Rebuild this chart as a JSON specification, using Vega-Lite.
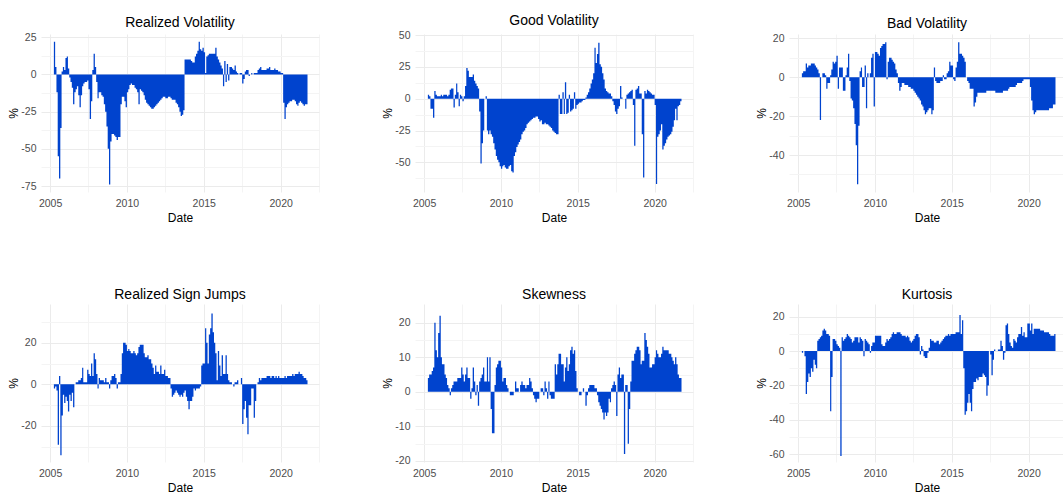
{
"$schema": "https://vega.github.io/schema/vega-lite/v6.json",
"padding": {"left": 7, "top": 14, "right": 0, "bottom": 0},
"background": "white",
"config": {
 "view": {"stroke": null},
 "font": "Liberation Sans",
 "title": {"font": "Liberation Sans", "fontSize": 14, "fontWeight": "normal", "color": "#000000", "anchor": "middle", "frame": "group", "offset": 2},
 "axis": {"domain": false, "ticks": false, "grid": true, "gridWidth": 1, "labelFont": "Liberation Sans", "labelFontSize": 10.5, "labelColor": "#4d4d4d", "titleFont": "Liberation Sans", "titleFontSize": 12, "titleFontWeight": "normal", "titleColor": "#000000", "labelOverlap": false, "labelFlush": false},
 "axisX": {"labelPadding": 6.5, "titlePadding": 3},
 "axisY": {"labelPadding": 5, "titlePadding": 0}
},
"data": {"values": [
{"d":"2005-04","rv":22,"gv":3,"bv":2,"sj":-2,"sk":4,"ku":-1},
{"d":"2005-05","rv":5,"gv":2,"bv":3,"sj":-1,"sk":5,"ku":0},
{"d":"2005-06","rv":-12,"gv":-8,"bv":3,"sj":-3,"sk":5,"ku":-3},
{"d":"2005-07","rv":-55,"gv":-8,"bv":7,"sj":-29,"sk":6,"ku":-25},
{"d":"2005-08","rv":-70,"gv":-15,"bv":5,"sj":4,"sk":7,"ku":-18},
{"d":"2005-09","rv":-36,"gv":6,"bv":6,"sj":-34,"sk":20,"ku":-13},
{"d":"2005-10","rv":2,"gv":3,"bv":6,"sj":-15,"sk":12,"ku":-15},
{"d":"2005-11","rv":5,"gv":2,"bv":7,"sj":-5,"sk":10,"ku":-10},
{"d":"2005-12","rv":3,"gv":2,"bv":7,"sj":-9,"sk":17,"ku":-12},
{"d":"2006-01","rv":11,"gv":2,"bv":7,"sj":-6,"sk":22,"ku":-5},
{"d":"2006-02","rv":12,"gv":3,"bv":6,"sj":-8,"sk":10,"ku":-8},
{"d":"2006-03","rv":4,"gv":2,"bv":5,"sj":-13,"sk":8,"ku":-10},
{"d":"2006-04","rv":-2,"gv":3,"bv":4,"sj":-5,"sk":8,"ku":6},
{"d":"2006-05","rv":-5,"gv":3,"bv":2,"sj":-8,"sk":5,"ku":7},
{"d":"2006-06","rv":-9,"gv":3,"bv":-22,"sj":-4,"sk":4,"ku":8},
{"d":"2006-07","rv":-20,"gv":2,"bv":0,"sj":-11,"sk":2,"ku":9},
{"d":"2006-08","rv":-12,"gv":3,"bv":2,"sj":0,"sk":1,"ku":12},
{"d":"2006-09","rv":-10,"gv":7,"bv":2,"sj":1,"sk":-1,"ku":13},
{"d":"2006-10","rv":-8,"gv":8,"bv":1,"sj":1,"sk":1,"ku":12},
{"d":"2006-11","rv":-14,"gv":8,"bv":-6,"sj":2,"sk":2,"ku":10},
{"d":"2006-12","rv":-22,"gv":-7,"bv":-3,"sj":2,"sk":3,"ku":10},
{"d":"2007-01","rv":-14,"gv":3,"bv":-3,"sj":3,"sk":3,"ku":9},
{"d":"2007-02","rv":-8,"gv":12,"bv":1,"sj":8,"sk":3,"ku":-35},
{"d":"2007-03","rv":-6,"gv":5,"bv":4,"sj":1,"sk":4,"ku":-15},
{"d":"2007-04","rv":-5,"gv":-6,"bv":8,"sj":1,"sk":4,"ku":7},
{"d":"2007-05","rv":-5,"gv":3,"bv":7,"sj":1,"sk":4,"ku":7},
{"d":"2007-06","rv":-4,"gv":2,"bv":8,"sj":7,"sk":7,"ku":6},
{"d":"2007-07","rv":-10,"gv":-2,"bv":11,"sj":5,"sk":5,"ku":4},
{"d":"2007-08","rv":-30,"gv":2,"bv":-6,"sj":4,"sk":3,"ku":3},
{"d":"2007-09","rv":-18,"gv":10,"bv":5,"sj":10,"sk":5,"ku":2},
{"d":"2007-10","rv":3,"gv":24,"bv":5,"sj":4,"sk":7,"ku":-61},
{"d":"2007-11","rv":14,"gv":22,"bv":5,"sj":15,"sk":4,"ku":8},
{"d":"2007-12","rv":5,"gv":17,"bv":-7,"sj":12,"sk":4,"ku":6},
{"d":"2008-01","rv":-5,"gv":17,"bv":-7,"sj":5,"sk":-2,"ku":7},
{"d":"2008-02","rv":-16,"gv":17,"bv":1,"sj":-2,"sk":1,"ku":8},
{"d":"2008-03","rv":-12,"gv":19,"bv":5,"sj":3,"sk":7,"ku":10},
{"d":"2008-04","rv":-12,"gv":14,"bv":12,"sj":2,"sk":3,"ku":9},
{"d":"2008-05","rv":-14,"gv":12,"bv":-2,"sj":2,"sk":-1,"ku":8},
{"d":"2008-06","rv":-15,"gv":10,"bv":-11,"sj":2,"sk":2,"ku":7},
{"d":"2008-07","rv":-20,"gv":8,"bv":-12,"sj":1,"sk":-4,"ku":5},
{"d":"2008-08","rv":-25,"gv":-10,"bv":-16,"sj":3,"sk":3,"ku":6},
{"d":"2008-09","rv":-35,"gv":-51,"bv":-24,"sj":1,"sk":4,"ku":8},
{"d":"2008-10","rv":-50,"gv":-35,"bv":-35,"sj":1,"sk":5,"ku":8},
{"d":"2008-11","rv":-74,"gv":-25,"bv":-55,"sj":-2,"sk":7,"ku":8},
{"d":"2008-12","rv":-45,"gv":0,"bv":-25,"sj":2,"sk":3,"ku":5},
{"d":"2009-01","rv":-40,"gv":2,"bv":3,"sj":4,"sk":3,"ku":8},
{"d":"2009-02","rv":-40,"gv":-25,"bv":5,"sj":4,"sk":10,"ku":7},
{"d":"2009-03","rv":-41,"gv":-28,"bv":-5,"sj":5,"sk":3,"ku":6},
{"d":"2009-04","rv":-42,"gv":-25,"bv":-5,"sj":3,"sk":10,"ku":-3},
{"d":"2009-05","rv":-44,"gv":-28,"bv":6,"sj":-2,"sk":-5,"ku":7},
{"d":"2009-06","rv":-42,"gv":-30,"bv":-16,"sj":1,"sk":-12,"ku":6},
{"d":"2009-07","rv":-42,"gv":-35,"bv":2,"sj":1,"sk":-12,"ku":5},
{"d":"2009-08","rv":-20,"gv":-40,"bv":0,"sj":5,"sk":2,"ku":4},
{"d":"2009-09","rv":-15,"gv":-45,"bv":2,"sj":15,"sk":7,"ku":-1},
{"d":"2009-10","rv":-15,"gv":-48,"bv":10,"sj":20,"sk":8,"ku":3},
{"d":"2009-11","rv":-18,"gv":-50,"bv":12,"sj":20,"sk":9,"ku":5},
{"d":"2009-12","rv":-22,"gv":-53,"bv":-15,"sj":19,"sk":9,"ku":5},
{"d":"2010-01","rv":-12,"gv":-55,"bv":13,"sj":16,"sk":7,"ku":9},
{"d":"2010-02","rv":-10,"gv":-53,"bv":13,"sj":17,"sk":3,"ku":9},
{"d":"2010-03","rv":-7,"gv":-52,"bv":12,"sj":16,"sk":4,"ku":9},
{"d":"2010-04","rv":-6,"gv":-54,"bv":11,"sj":15,"sk":4,"ku":9},
{"d":"2010-05","rv":-7,"gv":-55,"bv":15,"sj":15,"sk":2,"ku":9},
{"d":"2010-06","rv":-7,"gv":-55,"bv":16,"sj":16,"sk":1,"ku":4},
{"d":"2010-07","rv":-9,"gv":-53,"bv":17,"sj":15,"sk":0,"ku":3},
{"d":"2010-08","rv":-10,"gv":-52,"bv":17,"sj":14,"sk":-1,"ku":3},
{"d":"2010-09","rv":-12,"gv":-57,"bv":18,"sj":15,"sk":-1,"ku":5},
{"d":"2010-10","rv":-20,"gv":-58,"bv":-1,"sj":18,"sk":-1,"ku":7},
{"d":"2010-11","rv":-10,"gv":-45,"bv":8,"sj":19,"sk":0,"ku":6},
{"d":"2010-12","rv":-11,"gv":-42,"bv":10,"sj":19,"sk":3,"ku":7},
{"d":"2011-01","rv":-12,"gv":-38,"bv":10,"sj":19,"sk":1,"ku":8},
{"d":"2011-02","rv":-14,"gv":-36,"bv":9,"sj":15,"sk":1,"ku":10},
{"d":"2011-03","rv":-17,"gv":-34,"bv":8,"sj":13,"sk":0,"ku":11},
{"d":"2011-04","rv":-19,"gv":-32,"bv":7,"sj":13,"sk":2,"ku":10},
{"d":"2011-05","rv":-20,"gv":-28,"bv":4,"sj":14,"sk":3,"ku":10},
{"d":"2011-06","rv":-21,"gv":-26,"bv":2,"sj":12,"sk":2,"ku":11},
{"d":"2011-07","rv":-22,"gv":-25,"bv":-3,"sj":12,"sk":2,"ku":11},
{"d":"2011-08","rv":-23,"gv":-23,"bv":-7,"sj":10,"sk":1,"ku":11},
{"d":"2011-09","rv":-23,"gv":-20,"bv":-5,"sj":8,"sk":2,"ku":10},
{"d":"2011-10","rv":-22,"gv":-19,"bv":-3,"sj":5,"sk":2,"ku":9},
{"d":"2011-11","rv":-21,"gv":-18,"bv":-3,"sj":9,"sk":4,"ku":9},
{"d":"2011-12","rv":-20,"gv":-17,"bv":-4,"sj":6,"sk":3,"ku":9},
{"d":"2012-01","rv":-19,"gv":-16,"bv":-4,"sj":6,"sk":1,"ku":8},
{"d":"2012-02","rv":-18,"gv":-15,"bv":-4,"sj":5,"sk":-1,"ku":9},
{"d":"2012-03","rv":-17,"gv":-15,"bv":-5,"sj":9,"sk":-2,"ku":8},
{"d":"2012-04","rv":-16,"gv":-14,"bv":-5,"sj":5,"sk":-3,"ku":6},
{"d":"2012-05","rv":-15,"gv":-14,"bv":-6,"sj":5,"sk":-2,"ku":5},
{"d":"2012-06","rv":-15,"gv":-16,"bv":-6,"sj":7,"sk":-2,"ku":6},
{"d":"2012-07","rv":-16,"gv":-18,"bv":-7,"sj":4,"sk":0,"ku":7},
{"d":"2012-08","rv":-16,"gv":-17,"bv":-8,"sj":4,"sk":1,"ku":9},
{"d":"2012-09","rv":-15,"gv":-20,"bv":-9,"sj":3,"sk":1,"ku":10},
{"d":"2012-10","rv":-15,"gv":-20,"bv":-10,"sj":3,"sk":-1,"ku":10},
{"d":"2012-11","rv":-16,"gv":-19,"bv":-11,"sj":-2,"sk":3,"ku":8},
{"d":"2012-12","rv":-17,"gv":-20,"bv":-12,"sj":-6,"sk":1,"ku":-2},
{"d":"2013-01","rv":-17,"gv":-20,"bv":-14,"sj":-5,"sk":-2,"ku":3},
{"d":"2013-02","rv":-17,"gv":-21,"bv":-15,"sj":-4,"sk":3,"ku":1},
{"d":"2013-03","rv":-19,"gv":-22,"bv":-17,"sj":-3,"sk":-1,"ku":-3},
{"d":"2013-04","rv":-20,"gv":-23,"bv":-19,"sj":-4,"sk":-2,"ku":-4},
{"d":"2013-05","rv":-22,"gv":-25,"bv":-18,"sj":-5,"sk":-2,"ku":-4},
{"d":"2013-06","rv":-25,"gv":-26,"bv":-17,"sj":-6,"sk":-2,"ku":-1},
{"d":"2013-07","rv":-28,"gv":-27,"bv":-16,"sj":-5,"sk":8,"ku":2},
{"d":"2013-08","rv":-27,"gv":-28,"bv":-16,"sj":-6,"sk":5,"ku":7},
{"d":"2013-09","rv":-24,"gv":-28,"bv":-19,"sj":-4,"sk":8,"ku":6},
{"d":"2013-10","rv":10,"gv":3,"bv":-17,"sj":-3,"sk":11,"ku":6},
{"d":"2013-11","rv":10,"gv":-12,"bv":5,"sj":-6,"sk":11,"ku":5},
{"d":"2013-12","rv":10,"gv":-12,"bv":-2,"sj":-8,"sk":8,"ku":5},
{"d":"2014-01","rv":10,"gv":5,"bv":-3,"sj":-12,"sk":8,"ku":6},
{"d":"2014-02","rv":10,"gv":-12,"bv":-3,"sj":-8,"sk":3,"ku":6},
{"d":"2014-03","rv":9,"gv":13,"bv":-3,"sj":-8,"sk":7,"ku":4},
{"d":"2014-04","rv":8,"gv":-12,"bv":-2,"sj":-6,"sk":10,"ku":5},
{"d":"2014-05","rv":8,"gv":-11,"bv":-2,"sj":-2,"sk":6,"ku":6},
{"d":"2014-06","rv":12,"gv":3,"bv":1,"sj":-3,"sk":8,"ku":7},
{"d":"2014-07","rv":14,"gv":-10,"bv":-1,"sj":-2,"sk":12,"ku":8},
{"d":"2014-08","rv":16,"gv":-9,"bv":-1,"sj":-2,"sk":13,"ku":9},
{"d":"2014-09","rv":22,"gv":-8,"bv":2,"sj":-2,"sk":11,"ku":9},
{"d":"2014-10","rv":17,"gv":5,"bv":3,"sj":-1,"sk":12,"ku":10},
{"d":"2014-11","rv":16,"gv":-8,"bv":8,"sj":9,"sk":6,"ku":9},
{"d":"2014-12","rv":18,"gv":-5,"bv":6,"sj":10,"sk":1,"ku":10},
{"d":"2015-01","rv":15,"gv":-4,"bv":6,"sj":10,"sk":0,"ku":10},
{"d":"2015-02","rv":1,"gv":-3,"bv":-1,"sj":27,"sk":-1,"ku":10},
{"d":"2015-03","rv":12,"gv":-3,"bv":-2,"sj":20,"sk":-1,"ku":10},
{"d":"2015-04","rv":13,"gv":-2,"bv":5,"sj":10,"sk":0,"ku":11},
{"d":"2015-05","rv":14,"gv":-1,"bv":8,"sj":24,"sk":1,"ku":11},
{"d":"2015-06","rv":14,"gv":-1,"bv":18,"sj":27,"sk":0,"ku":11},
{"d":"2015-07","rv":14,"gv":1,"bv":12,"sj":34,"sk":-4,"ku":21},
{"d":"2015-08","rv":14,"gv":3,"bv":12,"sj":25,"sk":-1,"ku":10},
{"d":"2015-09","rv":14,"gv":5,"bv":11,"sj":20,"sk":1,"ku":18},
{"d":"2015-10","rv":18,"gv":8,"bv":10,"sj":15,"sk":2,"ku":-10},
{"d":"2015-11","rv":12,"gv":12,"bv":8,"sj":2,"sk":2,"ku":-37},
{"d":"2015-12","rv":10,"gv":15,"bv":0,"sj":16,"sk":2,"ku":-35},
{"d":"2016-01","rv":8,"gv":20,"bv":-2,"sj":9,"sk":2,"ku":-30},
{"d":"2016-02","rv":6,"gv":40,"bv":-3,"sj":4,"sk":1,"ku":-25},
{"d":"2016-03","rv":4,"gv":28,"bv":-6,"sj":14,"sk":1,"ku":-30},
{"d":"2016-04","rv":-8,"gv":35,"bv":-6,"sj":5,"sk":-1,"ku":-35},
{"d":"2016-05","rv":9,"gv":44,"bv":-6,"sj":5,"sk":-3,"ku":-22},
{"d":"2016-06","rv":-5,"gv":27,"bv":-15,"sj":14,"sk":-4,"ku":-18},
{"d":"2016-07","rv":7,"gv":25,"bv":-13,"sj":5,"sk":-5,"ku":-18},
{"d":"2016-08","rv":-4,"gv":20,"bv":-10,"sj":2,"sk":-6,"ku":-16},
{"d":"2016-09","rv":5,"gv":15,"bv":-8,"sj":1,"sk":-8,"ku":-17},
{"d":"2016-10","rv":5,"gv":8,"bv":-8,"sj":1,"sk":-6,"ku":-15},
{"d":"2016-11","rv":4,"gv":6,"bv":-8,"sj":0,"sk":-7,"ku":-15},
{"d":"2016-12","rv":3,"gv":5,"bv":-8,"sj":-1,"sk":-6,"ku":-15},
{"d":"2017-01","rv":6,"gv":4,"bv":-8,"sj":1,"sk":-2,"ku":-13},
{"d":"2017-02","rv":2,"gv":4,"bv":-8,"sj":1,"sk":-3,"ku":-14},
{"d":"2017-03","rv":1,"gv":2,"bv":-8,"sj":2,"sk":1,"ku":-15},
{"d":"2017-04","rv":0,"gv":-2,"bv":-7,"sj":0,"sk":2,"ku":-26},
{"d":"2017-05","rv":1,"gv":-5,"bv":-7,"sj":0,"sk":3,"ku":-20},
{"d":"2017-06","rv":1,"gv":-10,"bv":-7,"sj":3,"sk":2,"ku":0},
{"d":"2017-07","rv":-6,"gv":-12,"bv":-7,"sj":-19,"sk":-7,"ku":-2},
{"d":"2017-08","rv":-3,"gv":-8,"bv":-7,"sj":-12,"sk":5,"ku":-14},
{"d":"2017-09","rv":2,"gv":-6,"bv":-7,"sj":-8,"sk":7,"ku":-5},
{"d":"2017-10","rv":3,"gv":10,"bv":-7,"sj":-16,"sk":4,"ku":1},
{"d":"2017-11","rv":3,"gv":1,"bv":-8,"sj":-24,"sk":5,"ku":0},
{"d":"2017-12","rv":-1,"gv":0,"bv":-8,"sj":-10,"sk":5,"ku":0},
{"d":"2018-01","rv":0,"gv":0,"bv":-8,"sj":-10,"sk":-18,"ku":1},
{"d":"2018-02","rv":1,"gv":-8,"bv":-8,"sj":-2,"sk":2,"ku":1},
{"d":"2018-03","rv":0,"gv":3,"bv":-8,"sj":-2,"sk":2,"ku":6},
{"d":"2018-04","rv":1,"gv":4,"bv":-8,"sj":-16,"sk":-15,"ku":3},
{"d":"2018-05","rv":1,"gv":5,"bv":-7,"sj":-8,"sk":-5,"ku":-5},
{"d":"2018-06","rv":1,"gv":6,"bv":-7,"sj":0,"sk":3,"ku":-1},
{"d":"2018-07","rv":3,"gv":7,"bv":-7,"sj":1,"sk":9,"ku":15},
{"d":"2018-08","rv":4,"gv":-5,"bv":-7,"sj":3,"sk":9,"ku":16},
{"d":"2018-09","rv":5,"gv":-37,"bv":-6,"sj":2,"sk":11,"ku":10},
{"d":"2018-10","rv":3,"gv":7,"bv":-5,"sj":3,"sk":12,"ku":5},
{"d":"2018-11","rv":3,"gv":8,"bv":-5,"sj":3,"sk":13,"ku":3},
{"d":"2018-12","rv":3,"gv":10,"bv":-5,"sj":3,"sk":13,"ku":2},
{"d":"2019-01","rv":3,"gv":4,"bv":-5,"sj":3,"sk":12,"ku":7},
{"d":"2019-02","rv":4,"gv":4,"bv":-5,"sj":4,"sk":8,"ku":6},
{"d":"2019-03","rv":4,"gv":-28,"bv":-4,"sj":4,"sk":9,"ku":5},
{"d":"2019-04","rv":5,"gv":-62,"bv":-3,"sj":4,"sk":9,"ku":8},
{"d":"2019-05","rv":3,"gv":6,"bv":-3,"sj":3,"sk":17,"ku":10},
{"d":"2019-06","rv":3,"gv":4,"bv":-3,"sj":4,"sk":15,"ku":10},
{"d":"2019-07","rv":3,"gv":7,"bv":-3,"sj":4,"sk":13,"ku":14},
{"d":"2019-08","rv":4,"gv":6,"bv":-2,"sj":3,"sk":11,"ku":9},
{"d":"2019-09","rv":3,"gv":5,"bv":-1,"sj":4,"sk":7,"ku":11},
{"d":"2019-10","rv":3,"gv":4,"bv":-1,"sj":3,"sk":7,"ku":8},
{"d":"2019-11","rv":2,"gv":3,"bv":-1,"sj":4,"sk":8,"ku":8},
{"d":"2019-12","rv":2,"gv":3,"bv":-1,"sj":3,"sk":8,"ku":16},
{"d":"2020-01","rv":1,"gv":-5,"bv":-1,"sj":3,"sk":10,"ku":16},
{"d":"2020-02","rv":1,"gv":-67,"bv":-5,"sj":3,"sk":12,"ku":12},
{"d":"2020-03","rv":-19,"gv":-30,"bv":-12,"sj":3,"sk":11,"ku":16},
{"d":"2020-04","rv":-30,"gv":-28,"bv":-17,"sj":4,"sk":10,"ku":10},
{"d":"2020-05","rv":-22,"gv":-25,"bv":-19,"sj":3,"sk":10,"ku":13},
{"d":"2020-06","rv":-20,"gv":-20,"bv":-18,"sj":4,"sk":11,"ku":13},
{"d":"2020-07","rv":-19,"gv":-40,"bv":-17,"sj":4,"sk":13,"ku":13},
{"d":"2020-08","rv":-18,"gv":-37,"bv":-17,"sj":4,"sk":12,"ku":13},
{"d":"2020-09","rv":-18,"gv":-35,"bv":-17,"sj":4,"sk":12,"ku":13},
{"d":"2020-10","rv":-17,"gv":-32,"bv":-17,"sj":5,"sk":12,"ku":12},
{"d":"2020-11","rv":-17,"gv":-30,"bv":-17,"sj":4,"sk":12,"ku":12},
{"d":"2020-12","rv":-18,"gv":-29,"bv":-17,"sj":5,"sk":11,"ku":12},
{"d":"2021-01","rv":-20,"gv":-28,"bv":-17,"sj":5,"sk":11,"ku":11},
{"d":"2021-02","rv":-21,"gv":-26,"bv":-17,"sj":5,"sk":10,"ku":11},
{"d":"2021-03","rv":-19,"gv":-22,"bv":-17,"sj":6,"sk":9,"ku":11},
{"d":"2021-04","rv":-18,"gv":-17,"bv":-17,"sj":5,"sk":8,"ku":11},
{"d":"2021-05","rv":-19,"gv":-8,"bv":-16,"sj":5,"sk":10,"ku":10},
{"d":"2021-06","rv":-20,"gv":-17,"bv":-16,"sj":4,"sk":8,"ku":9},
{"d":"2021-07","rv":-21,"gv":-6,"bv":-16,"sj":3,"sk":5,"ku":9},
{"d":"2021-08","rv":-20,"gv":-5,"bv":-14,"sj":3,"sk":4,"ku":9},
{"d":"2021-09","rv":-20,"gv":-2,"bv":-14,"sj":2,"sk":4,"ku":10},
{"d":"2021-10","rv":-19,"gv":-7,"bv":-14,"sj":0,"sk":4,"ku":12}
]},
"columns": 3,
"spacing": {"row": 112, "column": 96},
"bounds": "flush",
"concat": [
 {"title": "Realized Volatility", "width": 278, "height": 158,
  "mark": {"type": "area", "interpolate": "step-after", "color": "#0043ce"},
  "encoding": {
   "x": {"field": "d", "type": "temporal", "title": "Date",
    "scale": {"type": "utc", "domain": [{"year": 2004, "month": 5, "date": 30, "utc": true}, {"year": 2022, "month": 7, "date": 1, "utc": true}]},
    "axis": {"values": [{"year": 2005, "month": 1, "date": 1, "utc": true}, {"year": 2007, "month": 7, "date": 1, "utc": true}, {"year": 2010, "month": 1, "date": 1, "utc": true}, {"year": 2012, "month": 7, "date": 1, "utc": true}, {"year": 2015, "month": 1, "date": 1, "utc": true}, {"year": 2017, "month": 7, "date": 1, "utc": true}, {"year": 2020, "month": 1, "date": 1, "utc": true}, {"year": 2022, "month": 7, "date": 1, "utc": true}],
     "labelExpr": "utcmonth(datum.value) === 0 ? utcFormat(datum.value, '%Y') : ''",
     "gridColor": {"condition": {"test": "utcmonth(datum.value) === 0", "value": "#ebebeb"}, "value": "#f4f4f4"}}},
   "y": {"field": "rv", "type": "quantitative", "title": "%",
    "scale": {"domain": [-79, 27.2], "nice": false, "zero": false},
    "axis": {"values": [25, 12.5, 0, -12.5, -25, -37.5, -50, -62.5, -75],
     "labelExpr": "datum.value % 25 === 0 ? toString(datum.value) : ''",
     "gridColor": {"condition": {"test": "datum.value % 25 === 0", "value": "#ebebeb"}, "value": "#f4f4f4"}}},
   "y2": {"datum": 0}
  }},
 {"title": "Good Volatility", "width": 278, "height": 158,
  "mark": {"type": "area", "interpolate": "step-after", "color": "#0043ce"},
  "encoding": {
   "x": {"field": "d", "type": "temporal", "title": "Date",
    "scale": {"type": "utc", "domain": [{"year": 2004, "month": 5, "date": 30, "utc": true}, {"year": 2022, "month": 7, "date": 1, "utc": true}]},
    "axis": {"values": [{"year": 2005, "month": 1, "date": 1, "utc": true}, {"year": 2007, "month": 7, "date": 1, "utc": true}, {"year": 2010, "month": 1, "date": 1, "utc": true}, {"year": 2012, "month": 7, "date": 1, "utc": true}, {"year": 2015, "month": 1, "date": 1, "utc": true}, {"year": 2017, "month": 7, "date": 1, "utc": true}, {"year": 2020, "month": 1, "date": 1, "utc": true}, {"year": 2022, "month": 7, "date": 1, "utc": true}],
     "labelExpr": "utcmonth(datum.value) === 0 ? utcFormat(datum.value, '%Y') : ''",
     "gridColor": {"condition": {"test": "utcmonth(datum.value) === 0", "value": "#ebebeb"}, "value": "#f4f4f4"}}},
   "y": {"field": "gv", "type": "quantitative", "title": "%",
    "scale": {"domain": [-73.3, 50.8], "nice": false, "zero": false},
    "axis": {"values": [50, 37.5, 25, 12.5, 0, -12.5, -25, -37.5, -50, -62.5],
     "labelExpr": "datum.value % 25 === 0 ? toString(datum.value) : ''",
     "gridColor": {"condition": {"test": "datum.value % 25 === 0", "value": "#ebebeb"}, "value": "#f4f4f4"}}},
   "y2": {"datum": 0}
  }},
 {"title": "Bad Volatility", "width": 276, "height": 158,
  "mark": {"type": "area", "interpolate": "step-after", "color": "#0043ce"},
  "encoding": {
   "x": {"field": "d", "type": "temporal", "title": "Date",
    "scale": {"type": "utc", "domain": [{"year": 2004, "month": 5, "date": 30, "utc": true}, {"year": 2022, "month": 5, "date": 15, "utc": true}]},
    "axis": {"values": [{"year": 2005, "month": 1, "date": 1, "utc": true}, {"year": 2007, "month": 7, "date": 1, "utc": true}, {"year": 2010, "month": 1, "date": 1, "utc": true}, {"year": 2012, "month": 7, "date": 1, "utc": true}, {"year": 2015, "month": 1, "date": 1, "utc": true}, {"year": 2017, "month": 7, "date": 1, "utc": true}, {"year": 2020, "month": 1, "date": 1, "utc": true}],
     "labelExpr": "utcmonth(datum.value) === 0 ? utcFormat(datum.value, '%Y') : ''",
     "gridColor": {"condition": {"test": "utcmonth(datum.value) === 0", "value": "#ebebeb"}, "value": "#f4f4f4"}}},
   "y": {"field": "bv", "type": "quantitative", "title": "%",
    "scale": {"domain": [-59, 22.2], "nice": false, "zero": false},
    "axis": {"values": [20, 10, 0, -10, -20, -30, -40, -50],
     "labelExpr": "datum.value % 20 === 0 ? toString(datum.value) : ''",
     "gridColor": {"condition": {"test": "datum.value % 20 === 0", "value": "#ebebeb"}, "value": "#f4f4f4"}}},
   "y2": {"datum": 0}
  }},
 {"title": "Realized Sign Jumps", "width": 278, "height": 158,
  "mark": {"type": "area", "interpolate": "step-after", "color": "#0043ce"},
  "encoding": {
   "x": {"field": "d", "type": "temporal", "title": "Date",
    "scale": {"type": "utc", "domain": [{"year": 2004, "month": 5, "date": 30, "utc": true}, {"year": 2022, "month": 7, "date": 1, "utc": true}]},
    "axis": {"values": [{"year": 2005, "month": 1, "date": 1, "utc": true}, {"year": 2007, "month": 7, "date": 1, "utc": true}, {"year": 2010, "month": 1, "date": 1, "utc": true}, {"year": 2012, "month": 7, "date": 1, "utc": true}, {"year": 2015, "month": 1, "date": 1, "utc": true}, {"year": 2017, "month": 7, "date": 1, "utc": true}, {"year": 2020, "month": 1, "date": 1, "utc": true}, {"year": 2022, "month": 7, "date": 1, "utc": true}],
     "labelExpr": "utcmonth(datum.value) === 0 ? utcFormat(datum.value, '%Y') : ''",
     "gridColor": {"condition": {"test": "utcmonth(datum.value) === 0", "value": "#ebebeb"}, "value": "#f4f4f4"}}},
   "y": {"field": "sj", "type": "quantitative", "title": "%",
    "scale": {"domain": [-37.3, 38.6], "nice": false, "zero": false},
    "axis": {"values": [30, 20, 10, 0, -10, -20, -30],
     "labelExpr": "datum.value % 20 === 0 ? toString(datum.value) : ''",
     "gridColor": {"condition": {"test": "datum.value % 20 === 0", "value": "#ebebeb"}, "value": "#f4f4f4"}}},
   "y2": {"datum": 0}
  }},
 {"title": "Skewness", "width": 278, "height": 158,
  "mark": {"type": "area", "interpolate": "step-after", "color": "#0043ce"},
  "encoding": {
   "x": {"field": "d", "type": "temporal", "title": "Date",
    "scale": {"type": "utc", "domain": [{"year": 2004, "month": 5, "date": 30, "utc": true}, {"year": 2022, "month": 7, "date": 1, "utc": true}]},
    "axis": {"values": [{"year": 2005, "month": 1, "date": 1, "utc": true}, {"year": 2007, "month": 7, "date": 1, "utc": true}, {"year": 2010, "month": 1, "date": 1, "utc": true}, {"year": 2012, "month": 7, "date": 1, "utc": true}, {"year": 2015, "month": 1, "date": 1, "utc": true}, {"year": 2017, "month": 7, "date": 1, "utc": true}, {"year": 2020, "month": 1, "date": 1, "utc": true}, {"year": 2022, "month": 7, "date": 1, "utc": true}],
     "labelExpr": "utcmonth(datum.value) === 0 ? utcFormat(datum.value, '%Y') : ''",
     "gridColor": {"condition": {"test": "utcmonth(datum.value) === 0", "value": "#ebebeb"}, "value": "#f4f4f4"}}},
   "y": {"field": "sk", "type": "quantitative", "title": "%",
    "scale": {"domain": [-20.3, 25.4], "nice": false, "zero": false},
    "axis": {"values": [20, 15, 10, 5, 0, -5, -10, -15, -20],
     "labelExpr": "datum.value % 10 === 0 ? toString(datum.value) : ''",
     "gridColor": {"condition": {"test": "datum.value % 10 === 0", "value": "#ebebeb"}, "value": "#f4f4f4"}}},
   "y2": {"datum": 0}
  }},
 {"title": "Kurtosis", "width": 276, "height": 158,
  "mark": {"type": "area", "interpolate": "step-after", "color": "#0043ce"},
  "encoding": {
   "x": {"field": "d", "type": "temporal", "title": "Date",
    "scale": {"type": "utc", "domain": [{"year": 2004, "month": 5, "date": 30, "utc": true}, {"year": 2022, "month": 5, "date": 15, "utc": true}]},
    "axis": {"values": [{"year": 2005, "month": 1, "date": 1, "utc": true}, {"year": 2007, "month": 7, "date": 1, "utc": true}, {"year": 2010, "month": 1, "date": 1, "utc": true}, {"year": 2012, "month": 7, "date": 1, "utc": true}, {"year": 2015, "month": 1, "date": 1, "utc": true}, {"year": 2017, "month": 7, "date": 1, "utc": true}, {"year": 2020, "month": 1, "date": 1, "utc": true}],
     "labelExpr": "utcmonth(datum.value) === 0 ? utcFormat(datum.value, '%Y') : ''",
     "gridColor": {"condition": {"test": "utcmonth(datum.value) === 0", "value": "#ebebeb"}, "value": "#f4f4f4"}}},
   "y": {"field": "ku", "type": "quantitative", "title": "%",
    "scale": {"domain": [-64.5, 27.4], "nice": false, "zero": false},
    "axis": {"values": [20, 10, 0, -10, -20, -30, -40, -50, -60],
     "labelExpr": "datum.value % 20 === 0 ? toString(datum.value) : ''",
     "gridColor": {"condition": {"test": "datum.value % 20 === 0", "value": "#ebebeb"}, "value": "#f4f4f4"}}},
   "y2": {"datum": 0}
  }}
]
}
